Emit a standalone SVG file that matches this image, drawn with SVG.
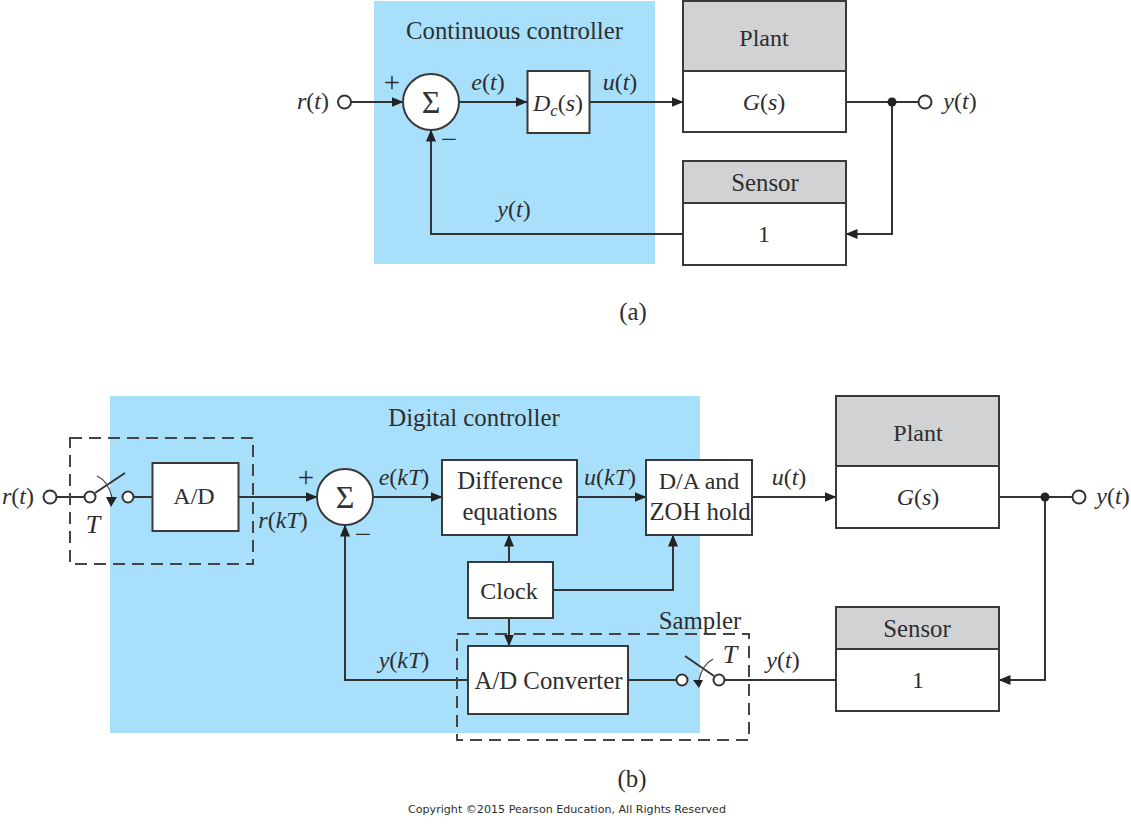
<svg xmlns="http://www.w3.org/2000/svg" width="1131" height="824" viewBox="0 0 1131 824">
<style>
text{font-family:"Liberation Serif",serif;font-size:24px;fill:#2e2e2e}
.m{text-anchor:middle}
.i{font-style:italic}
.r{font-size:24.800px}
.s{font-size:32px;fill:#333}
.o{font-size:29px}
.box{fill:#fff;stroke:#3a3a3a;stroke-width:2}
.gray{fill:#d0d2d3;stroke:#3a3a3a;stroke-width:2}
.w{fill:none;stroke:#333;stroke-width:2}
.thin{fill:none;stroke:#444;stroke-width:1.2}
.dash{fill:none;stroke:#444;stroke-width:2;stroke-dasharray:12 7}
.port{fill:#fff;stroke:#333;stroke-width:2}
.ah{fill:#222}
</style>
<defs>
<marker id="a" viewBox="0 0 12 10" refX="11.500" refY="5" markerWidth="12" markerHeight="10" markerUnits="userSpaceOnUse" orient="auto"><path d="M0 0L12 5L0 10Z" fill="#222"/></marker>
</defs>
<rect x="374" y="1" width="281" height="263" fill="#a8e0fc"/>
<rect x="110" y="396" width="590" height="337" fill="#a8e0fc"/>
<g id="connectors">
<path class="w" d="M351 102H403" marker-end="url(#a)"/>
<path class="w" d="M459 102H527" marker-end="url(#a)"/>
<path class="w" d="M590 102H683" marker-end="url(#a)"/>
<path class="w" d="M846 102H918"/>
<path class="w" d="M892 102V234H846" marker-end="url(#a)"/>
<path class="w" d="M683 234H431V130" marker-end="url(#a)"/>
<path class="w" d="M57 497H84"/>
<path class="w" d="M134 497H152"/>
<path class="w" d="M238 497H317" marker-end="url(#a)"/>
<path class="w" d="M373 497H442" marker-end="url(#a)"/>
<path class="w" d="M577 497H646" marker-end="url(#a)"/>
<path class="w" d="M752 497H836" marker-end="url(#a)"/>
<path class="w" d="M999 497H1072"/>
<path class="w" d="M1045 497V680H999" marker-end="url(#a)"/>
<path class="w" d="M509 562V535" marker-end="url(#a)"/>
<path class="w" d="M553 590H673V535" marker-end="url(#a)"/>
<path class="w" d="M509 618V646" marker-end="url(#a)"/>
<path class="w" d="M468 680H345V525" marker-end="url(#a)"/>
<path class="w" d="M628 680H676"/>
<path class="w" d="M725 680H836"/>
</g>
<g id="node-sum-a"><circle class="box" cx="431" cy="102" r="28"/><text class="m s" x="431" y="113">Σ</text></g>
<g id="node-dc"><rect class="box" x="527.500" y="71" width="62" height="62"/><text class="m" x="558" y="111"><tspan class="i">D</tspan><tspan class="i" font-size="17" dy="5">c</tspan><tspan dy="-5">(</tspan><tspan class="i">s</tspan>)</text></g>
<g id="node-plant-a"><rect class="gray" x="683" y="1" width="163" height="70"/><rect class="box" x="683" y="71" width="163" height="61"/><text class="m" x="764" y="46">Plant</text><text class="m" x="764" y="110"><tspan class="i">G</tspan>(<tspan class="i">s</tspan>)</text></g>
<g id="node-sensor-a"><rect class="gray" x="683" y="161" width="163" height="42"/><rect class="box" x="683" y="203" width="163" height="62"/><text class="m r" x="765" y="191">Sensor</text><text class="m" x="764" y="242">1</text></g>
<g id="ports-a"><circle class="port" cx="344.500" cy="102" r="6.500"/><circle class="port" cx="925" cy="102" r="6.500"/><circle cx="892" cy="102" r="4.500" fill="#222"/></g>
<g id="labels-a">
<text class="m r" x="514.500" y="39">Continuous controller</text>
<text class="m o" x="392" y="92">+</text>
<text class="m o" x="449" y="149">−</text>
<text class="m" x="313" y="109"><tspan class="i">r</tspan>(<tspan class="i">t</tspan>)</text>
<text class="m" x="488" y="90"><tspan class="i">e</tspan>(<tspan class="i">t</tspan>)</text>
<text class="m" x="620" y="90"><tspan class="i">u</tspan>(<tspan class="i">t</tspan>)</text>
<text class="m" x="514" y="217"><tspan class="i">y</tspan>(<tspan class="i">t</tspan>)</text>
<text class="m" x="960" y="109"><tspan class="i">y</tspan>(<tspan class="i">t</tspan>)</text>
<text class="m r" x="633" y="320">(a)</text>
</g>
<rect class="dash" x="70" y="438" width="183" height="126"/>
<rect class="dash" x="457" y="634" width="292" height="106"/>
<g id="node-ad"><rect class="box" x="152.500" y="463" width="86" height="68"/><text class="m" x="194" y="504">A/D</text></g>
<g id="node-sum-b"><circle class="box" cx="345" cy="497" r="28"/><text class="m s" x="345" y="508">Σ</text></g>
<g id="node-diff"><rect class="box" x="442" y="460" width="135" height="75"/><text class="m r" x="510" y="489">Difference</text><text class="m r" x="510" y="520">equations</text></g>
<g id="node-da"><rect class="box" x="646" y="460" width="106" height="75"/><text class="m" x="699" y="489">D/A and</text><text class="m r" x="700" y="520">ZOH hold</text></g>
<g id="node-clock"><rect class="box" x="468" y="562" width="85" height="56"/><text class="m" x="509" y="599">Clock</text></g>
<g id="node-adc"><rect class="box" x="468" y="646" width="160" height="68"/><text class="m r" x="548.500" y="689">A/D Converter</text></g>
<g id="node-plant-b"><rect class="gray" x="836" y="396" width="163" height="70"/><rect class="box" x="836" y="466" width="163" height="62"/><text class="m" x="918" y="441">Plant</text><text class="m" x="918" y="505"><tspan class="i">G</tspan>(<tspan class="i">s</tspan>)</text></g>
<g id="node-sensor-b"><rect class="gray" x="836" y="607" width="163" height="42"/><rect class="box" x="836" y="649" width="163" height="62"/><text class="m r" x="917" y="637">Sensor</text><text class="m" x="918" y="688">1</text></g>
<g id="switch-b1"><path class="w" d="M95 493L125 473"/><path class="thin" d="M97 476Q108 481 112 497"/><path class="ah" d="M106 497L117 497L111 507Z"/><circle class="port" cx="90" cy="497" r="5.500"/><circle class="port" cx="128" cy="497" r="5.500"/></g>
<g id="switch-b2"><path class="w" d="M714 676L685 656"/><path class="thin" d="M713 659Q702 665 699 680"/><path class="ah" d="M693 680L703 680L699 688Z"/><circle class="port" cx="682" cy="680" r="5.500"/><circle class="port" cx="719" cy="680" r="5.500"/></g>
<g id="ports-b"><circle class="port" cx="50" cy="497" r="6.500"/><circle class="port" cx="1079" cy="497" r="6.500"/><circle cx="1045" cy="497" r="4.500" fill="#222"/></g>
<g id="labels-b">
<text class="m r" x="474" y="426">Digital controller</text>
<text class="m" x="18" y="504"><tspan class="i">r</tspan>(<tspan class="i">t</tspan>)</text>
<text class="m i" x="93" y="533" font-size="26" style="font-size:26px">T</text>
<text class="m o" x="306" y="487">+</text>
<text class="m o" x="363" y="544">−</text>
<text class="m" x="283" y="528"><tspan class="i">r</tspan>(<tspan class="i">kT</tspan>)</text>
<text class="m" x="404" y="485"><tspan class="i">e</tspan>(<tspan class="i">kT</tspan>)</text>
<text class="m" x="610" y="485"><tspan class="i">u</tspan>(<tspan class="i">kT</tspan>)</text>
<text class="m" x="404" y="668"><tspan class="i">y</tspan>(<tspan class="i">kT</tspan>)</text>
<text class="m" x="789" y="485"><tspan class="i">u</tspan>(<tspan class="i">t</tspan>)</text>
<text class="m r" x="700" y="629">Sampler</text>
<text class="m i" x="730" y="663" style="font-size:26px">T</text>
<text class="m" x="783" y="668"><tspan class="i">y</tspan>(<tspan class="i">t</tspan>)</text>
<text class="m" x="1113" y="504"><tspan class="i">y</tspan>(<tspan class="i">t</tspan>)</text>
<text class="m r" x="632" y="787">(b)</text>
<text class="m" x="567" y="813" style="font-family:'DejaVu Sans',sans-serif;font-size:11.100px">Copyright ©2015 Pearson Education, All Rights Reserved</text>
</g>
</svg>
